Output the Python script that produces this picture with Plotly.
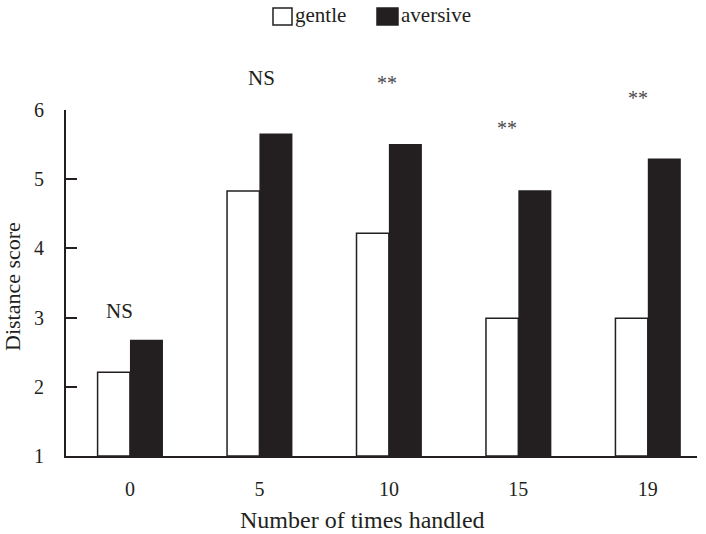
import plotly.graph_objects as go

categories = ["0", "5", "10", "15", "19"]
gentle = [2.21, 4.83, 4.22, 2.99, 2.99]
aversive = [2.68, 5.66, 5.51, 4.84, 5.30]
sig_labels = ["NS", "NS", "**", "**", "**"]
sig_y = [3.10, 6.46, 6.39, 5.74, 6.18]
y_ticks = [1, 2, 3, 4, 5, 6]
legend_names = ["gentle", "aversive"]

# style / layout constants (pixels)
sig_xshift = [-10, 2, -2, -11, -10]
W, H = 706, 534
ML, MR, MT, MB = 66, 9, 110, 78
YMIN, YMAX = 1, 6
pos = list(range(len(categories)))
ink = "#231f20"
font_family = "Liberation Serif, Times New Roman, serif"


def px_x(px):
    return (px - ML) / (W - ML - MR)


def px_y(py):
    return (H - MB - py) / (H - MT - MB)


def val_y(v):
    return (v - YMIN) / (YMAX - YMIN)


fig = go.Figure()
fig.add_trace(go.Bar(
    x=pos, y=[v - YMIN for v in gentle], base=YMIN, name=legend_names[0],
    marker=dict(color="white", line=dict(color=ink, width=1.5)),
    width=0.25, offset=-0.25,
))
fig.add_trace(go.Bar(
    x=pos, y=[v - YMIN for v in aversive], base=YMIN, name=legend_names[1],
    marker=dict(color=ink, line=dict(color=ink, width=0)),
    width=0.255, offset=0,
))

for p, lab, yy, xs in zip(pos, sig_labels, sig_y, sig_xshift):
    fig.add_annotation(
        x=p, y=val_y(yy), text=lab, showarrow=False, xref="x", yref="paper",
        xshift=xs, yanchor="middle",
        font=dict(family=font_family, size=21 if lab == "NS" else 20,
                  color=ink if lab == "NS" else "#4a4a4a"),
    )

# custom legend (boxes + labels)
legend_boxes = [(273, 292, "white"), (377, 398, ink)]
for (x0, x1, fill), name in zip(legend_boxes, legend_names):
    fig.add_shape(type="rect", xref="paper", yref="paper",
                  x0=px_x(x0), x1=px_x(x1), y0=px_y(25), y1=px_y(8),
                  fillcolor=fill, line=dict(color=ink, width=1.5))
    fig.add_annotation(x=px_x(x1 + 1), y=px_y(15), xref="paper", yref="paper",
                       text=name, showarrow=False, xanchor="left", yanchor="middle",
                       font=dict(family=font_family, size=21, color=ink))

# axis titles
fig.add_annotation(x=px_x(362), y=px_y(520), xref="paper", yref="paper",
                   text="Number of times handled", showarrow=False,
                   xanchor="center", yanchor="middle",
                   font=dict(family=font_family, size=24, color=ink))
fig.add_annotation(x=px_x(12), y=px_y(287), xref="paper", yref="paper",
                   text="Distance score", showarrow=False, textangle=-90,
                   xanchor="center", yanchor="middle",
                   font=dict(family=font_family, size=22, color=ink))

fig.update_layout(
    width=W, height=H,
    margin=dict(l=ML, r=MR, t=MT, b=MB, autoexpand=False),
    paper_bgcolor="white", plot_bgcolor="white",
    font=dict(family=font_family, size=20, color=ink),
    barmode="overlay",
    showlegend=False,
    xaxis=dict(
        range=[-0.494, 4.38], tickmode="array", tickvals=pos, ticktext=categories,
        showline=True, linecolor=ink, linewidth=2, ticks="", showgrid=False,
        zeroline=False, tickfont=dict(size=20), automargin=False,
        ticklabelstandoff=14,
    ),
    yaxis=dict(
        range=[YMIN, YMAX], tickmode="array", tickvals=y_ticks,
        showline=True, linecolor=ink, linewidth=2, ticks="inside", ticklen=11,
        tickwidth=2, tickcolor=ink, showgrid=False, zeroline=False,
        tickfont=dict(size=20), automargin=False, ticklabelstandoff=16,
    ),
)

fig.write_html("out.html", config={"displayModeBar": False},
               post_script="document.body.style.margin='0';")
